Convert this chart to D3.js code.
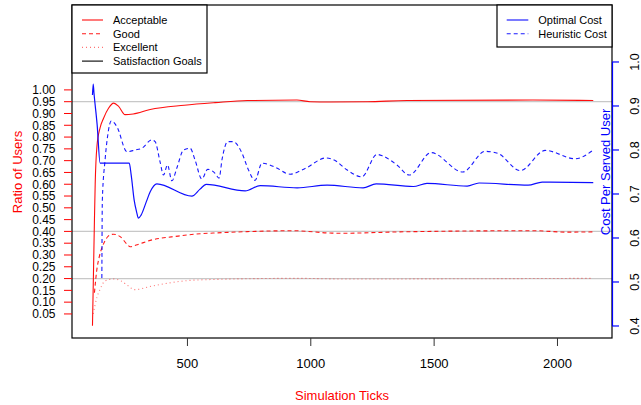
<!DOCTYPE html>
<html>
<head>
<meta charset="utf-8">
<script src="https://cdn.jsdelivr.net/npm/d3@7"></script>
<style>
  body { margin: 0; background: #fff; }
  svg { font-family: "Liberation Sans", Arial, Helvetica, sans-serif; }
</style>
</head>
<body>
<div id="chart"></div>
<script>
// ratio of users (left axis) : [tick, ratio]
var acceptable = [[115,0.0],[119,0.22],[123,0.45],[126,0.60],[133,0.76],[146,0.84],[160,0.88],[180,0.922],
  [201,0.944],[221,0.93],[247,0.895],[280,0.898],[349,0.917],[487,0.935],[612,0.946],[742,0.955],
  [944,0.957],[997,0.950],[1078,0.949],[1228,0.950],[1390,0.955],[1900,0.957],[2145,0.955]];
var good = [[123,0.14],[133,0.24],[142,0.29],[153,0.33],[166,0.36],[179,0.38],[200,0.388],[227,0.378],
  [256,0.345],[268,0.335],[292,0.342],[349,0.362],[462,0.380],[551,0.39],[604,0.393],[742,0.399],
  [929,0.403],[1078,0.393],[1119,0.392],[1362,0.398],[1901,0.403],[2039,0.397],[2145,0.398]];
var excellent = [[118,0.05],[133,0.12],[146,0.155],[166,0.19],[200,0.198],[231,0.19],[256,0.172],
  [285,0.153],[356,0.168],[417,0.18],[539,0.194],[944,0.201],[1147,0.198],[1565,0.199],[2145,0.201]];
var goals = [0.95, 0.40, 0.20];

// cost per served user (right axis) : [tick, cost]
var optimal = [[115,0.925],[118,0.95],[121,0.93],[134,0.857],[146,0.77],[264,0.77],[272,0.743],[284,0.686],
  [294,0.659],[301,0.645],[312,0.652],[333,0.682],[349,0.705],[376,0.723],[518,0.695],[551,0.711],
  [576,0.722],[734,0.707],[795,0.719],[945,0.714],[1066,0.720],[1212,0.714],[1265,0.723],[1415,0.717],
  [1471,0.724],[1634,0.718],[1682,0.725],[1881,0.720],[1938,0.727],[2145,0.726]];
var heuristic = [[153,0.509],[155,0.686],[166,0.777],[177,0.834],[191,0.866],[214,0.853],[255,0.796],
  [288,0.800],[315,0.804],[356,0.823],[369,0.819],[389,0.773],[403,0.743],[419,0.766],[437,0.730],
  [457,0.759],[484,0.800],[511,0.804],[531,0.777],[558,0.734],[582,0.756],[612,0.747],[628,0.736],
  [641,0.781],[663,0.819],[685,0.819],[721,0.793],[747,0.755],[774,0.731],[802,0.770],[855,0.761],
  [916,0.745],[977,0.758],[1062,0.782],[1095,0.777],[1146,0.755],[1207,0.739],[1268,0.790],[1293,0.786],
  [1349,0.766],[1399,0.743],[1488,0.794],[1616,0.750],[1707,0.797],[1759,0.792],[1849,0.753],
  [1950,0.799],[2072,0.780],[2145,0.800]];

var xTicks = [500, 1000, 1500, 2000];
var leftTicks = d3.range(1, 21).map(function(i) { return i * 0.05; });
var rightTicks = [0.4, 0.5, 0.6, 0.7, 0.8, 0.9, 1.0];

var W = 641, H = 405;
var plot = {left: 72, right: 612, top: 5, bottom: 338};

var svg = d3.select("#chart").append("svg")
  .attr("width", W).attr("height", H);

var x = d3.scaleLinear().domain([32, 2221]).range([plot.left, plot.right]);
var y = d3.scaleLinear().domain([-0.052, 1.36]).range([plot.bottom, plot.top]);
var y2 = d3.scaleLinear().domain([0.3727, 1.1295]).range([plot.bottom, plot.top]);

// satisfaction goal lines
svg.selectAll(".goal").data(goals).enter().append("line")
  .attr("x1", plot.left).attr("x2", plot.right)
  .attr("y1", function(d) { return y(d); }).attr("y2", function(d) { return y(d); })
  .attr("stroke", "#c8c8c8").attr("stroke-width", 1.2);

var lineL = d3.line().x(function(d) { return x(d[0]); }).y(function(d) { return y(d[1]); })
  .curve(d3.curveMonotoneX);
var lineR = d3.line().x(function(d) { return x(d[0]); }).y(function(d) { return y2(d[1]); })
  .curve(d3.curveMonotoneX);

function drawLine(data, gen, color, dash, width, op) {
  svg.append("path").datum(data)
    .attr("d", gen)
    .attr("fill", "none")
    .attr("stroke", color)
    .attr("stroke-width", width)
    .attr("stroke-opacity", op)
    .attr("stroke-dasharray", dash);
}

drawLine(excellent, lineL, "#ff0000", "1,3", 1.1, 0.55);
drawLine(good, lineL, "#ff0000", "4,3", 1.1, 0.9);
drawLine(acceptable, lineL, "#ff0000", null, 1.1, 0.95);
drawLine(heuristic, lineR, "#0000ff", "4,3", 1.1, 0.9);
drawLine(optimal, lineR, "#0000ff", null, 1.2, 0.95);

// frame
svg.append("rect")
  .attr("x", plot.left).attr("y", plot.top)
  .attr("width", plot.right - plot.left).attr("height", plot.bottom - plot.top)
  .attr("fill", "none").attr("stroke", "#000").attr("stroke-width", 1.2);

// x axis
var xg = svg.append("g");
xg.selectAll("line").data(xTicks).enter().append("line")
  .attr("x1", function(d) { return x(d); }).attr("x2", function(d) { return x(d); })
  .attr("y1", plot.bottom).attr("y2", plot.bottom + 8)
  .attr("stroke", "#333");
xg.selectAll("text").data(xTicks).enter().append("text")
  .attr("x", function(d) { return x(d); }).attr("y", 368)
  .attr("text-anchor", "middle").style("font-size", "13px")
  .text(function(d) { return d; });

svg.append("text")
  .attr("x", (plot.left + plot.right) / 2).attr("y", 400)
  .attr("text-anchor", "middle").style("font-size", "13px").attr("fill", "#ff0000")
  .text("Simulation Ticks");

// left axis
var lg = svg.append("g");
lg.selectAll("line").data(leftTicks).enter().append("line")
  .attr("x1", plot.left - 8).attr("x2", plot.left)
  .attr("y1", function(d) { return y(d); }).attr("y2", function(d) { return y(d); })
  .attr("stroke", "#ff0000");
lg.selectAll("text").data(leftTicks).enter().append("text")
  .attr("x", 55.5).attr("y", function(d) { return y(d) + 4.3; })
  .attr("text-anchor", "end").style("font-size", "12px")
  .text(function(d) { return d3.format(".2f")(d); });

svg.append("text")
  .attr("transform", "translate(22,172) rotate(-90)")
  .attr("text-anchor", "middle").style("font-size", "13px").attr("fill", "#ff0000")
  .text("Ratio of Users");

// right axis
var rg = svg.append("g");
rg.append("line")
  .attr("x1", plot.right + 0.5).attr("x2", plot.right + 0.5)
  .attr("y1", y2(0.4)).attr("y2", y2(1.0))
  .attr("stroke", "#0000ff").attr("stroke-width", 1.2);
rg.selectAll(".tk").data(rightTicks).enter().append("line")
  .attr("x1", plot.right).attr("x2", plot.right + 7)
  .attr("y1", function(d) { return y2(d); }).attr("y2", function(d) { return y2(d); })
  .attr("stroke", "#0000ff").attr("stroke-width", 1.2);
rg.selectAll("text").data(rightTicks).enter().append("text")
  .attr("transform", function(d) { return "translate(638.5," + y2(d) + ") rotate(-90)"; })
  .attr("text-anchor", "middle").style("font-size", "12.5px")
  .text(function(d) { return d3.format(".1f")(d); });

svg.append("text")
  .attr("transform", "translate(609.5,172) rotate(-90)")
  .attr("text-anchor", "middle").style("font-size", "13px").attr("fill", "#0000ff")
  .text("Cost Per Served User");

// legends
function legend(x0, y0, w, h, items, sx1, sx2, tx) {
  var g = svg.append("g");
  g.append("rect").attr("x", x0).attr("y", y0).attr("width", w).attr("height", h)
    .attr("fill", "#fff").attr("stroke", "#000").attr("stroke-width", 1.2);
  items.forEach(function(it, i) {
    var yy = y0 + 15 + i * 13.7;
    g.append("line").attr("x1", sx1).attr("x2", sx2).attr("y1", yy).attr("y2", yy)
      .attr("stroke", it.color).attr("stroke-width", 1.1)
      .attr("stroke-opacity", it.op).attr("stroke-dasharray", it.dash);
    g.append("text").attr("x", tx).attr("y", yy + 4).style("font-size", "11px").text(it.name);
  });
}

legend(plot.left, plot.top, 135, 68, [
  {name: "Acceptable", color: "#ff0000", dash: null, op: 0.95},
  {name: "Good", color: "#ff0000", dash: "4,3", op: 0.9},
  {name: "Excellent", color: "#ff0000", dash: "1,3", op: 0.55},
  {name: "Satisfaction Goals", color: "#000", dash: null, op: 1}
], 82, 103, 113);

legend(497, plot.top, plot.right - 497, 42, [
  {name: "Optimal Cost", color: "#0000ff", dash: null, op: 0.95},
  {name: "Heuristic Cost", color: "#0000ff", dash: "4,3", op: 0.9}
], 506.7, 528.3, 538.3);
</script>
</body>
</html>
